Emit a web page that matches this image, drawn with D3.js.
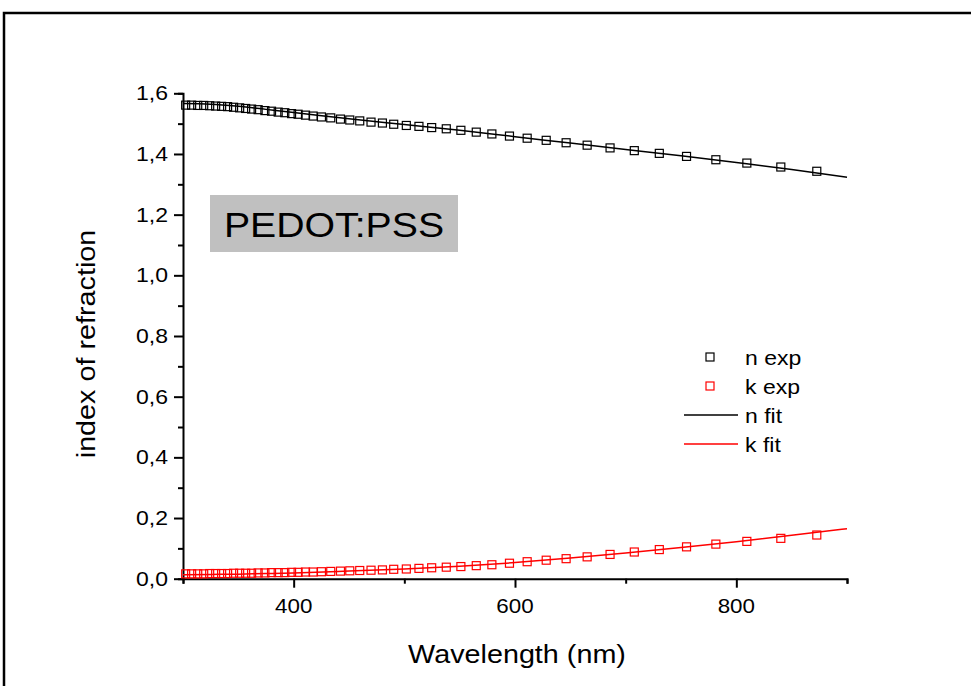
<!DOCTYPE html>
<html lang="en">
<head>
  <meta charset="UTF-8">
  <script src="https://d3js.org/d3.v7.min.js"></script>
  <title>PEDOT:PSS index of refraction</title>
  <style>
    body {
      margin: 0;
      background: #fff;
      font-family: "Liberation Sans", Arial, sans-serif;
      overflow: hidden;
    }
    text { fill: #000; }
  </style>
</head>
<body>
<script>
  // measured points (wavelength in nm)
  const wavelengthExp = [302.4, 307.8, 313.3, 318.7, 324.1, 329.5, 334.9, 340.3, 345.7, 351.2,
    356.6, 362.0, 367.9, 374.0, 380.0, 386.0, 392.0, 398.1, 404.0, 410.7,
    417.6, 425.1, 433.5, 442.3, 450.7, 459.7, 469.9, 480.2, 490.4, 501.8,
    513.2, 524.7, 537.9, 551.1, 565.0, 579.1, 595.0, 611.0, 628.2, 646.2,
    665.2, 685.9, 707.8, 730.4, 755.0, 781.5, 809.5, 840.2, 872.7];
  const nExp = [1.561, 1.561, 1.560, 1.560, 1.559, 1.558, 1.557, 1.556, 1.554, 1.552,
    1.550, 1.548, 1.546, 1.543, 1.541, 1.538, 1.536, 1.533, 1.531, 1.528,
    1.525, 1.522, 1.519, 1.515, 1.512, 1.509, 1.505, 1.502, 1.498, 1.494,
    1.491, 1.487, 1.483, 1.478, 1.472, 1.466, 1.459, 1.452, 1.445, 1.437,
    1.429, 1.420, 1.411, 1.402, 1.392, 1.381, 1.370, 1.357, 1.343];
  const kExp = [0.016, 0.016, 0.016, 0.016, 0.017, 0.017, 0.017, 0.017, 0.018, 0.018,
    0.018, 0.018, 0.019, 0.019, 0.020, 0.020, 0.020, 0.021, 0.021, 0.022,
    0.022, 0.023, 0.024, 0.025, 0.026, 0.027, 0.028, 0.029, 0.031, 0.032,
    0.034, 0.036, 0.038, 0.040, 0.043, 0.046, 0.051, 0.056, 0.061, 0.066,
    0.072, 0.080, 0.088, 0.096, 0.105, 0.114, 0.123, 0.133, 0.144];

  // fitted curves
  const wavelengthFit = [300, 325, 350, 375, 400, 450, 500, 550, 600, 650, 700, 750, 800, 850, 900];
  const nFit = [1.566, 1.564, 1.557, 1.547, 1.537, 1.516, 1.497, 1.478, 1.457, 1.436, 1.415, 1.394, 1.372, 1.349, 1.323];
  const kFit = [0.013, 0.014, 0.015, 0.017, 0.019, 0.025, 0.032, 0.041, 0.053, 0.068, 0.085, 0.103, 0.122, 0.143, 0.165];

  const xMajor = [400, 600, 800];
  const xMinor = [300, 500, 700, 900];
  const yMajor = [0, 0.2, 0.4, 0.6, 0.8, 1.0, 1.2, 1.4, 1.6];
  const yMinor = [0.1, 0.3, 0.5, 0.7, 0.9, 1.1, 1.3, 1.5];

  const legendItems = [
    { label: "n exp", color: "#000", type: "square" },
    { label: "k exp", color: "#ff0000", type: "square" },
    { label: "n fit", color: "#000", type: "line" },
    { label: "k fit", color: "#ff0000", type: "line" }
  ];

  const width = 971, height = 686;
  const svg = d3.select("body").append("svg")
    .attr("width", width)
    .attr("height", height);

  // outer frame
  svg.append("rect")
    .attr("x", 4).attr("y", 13)
    .attr("width", 1000).attr("height", 700)
    .attr("fill", "none")
    .attr("stroke", "#000")
    .attr("stroke-width", 2.5);

  const x = d3.scaleLinear().domain([300, 900]).range([183, 847]);
  const y = d3.scaleLinear().domain([0, 1.6]).range([578.7, 93.3]);

  const comma = d3.formatLocale({ decimal: ",", thousands: ".", grouping: [3], currency: ["", ""] }).format(".1f");

  // text slightly widened like the original export
  function label(g, px, py, str, size, sx, anchor, rot) {
    return g.append("text")
      .attr("transform", `translate(${px},${py})` + (rot ? ` rotate(${rot})` : "") + ` scale(${sx},1)`)
      .attr("text-anchor", anchor)
      .style("font-size", size + "px")
      .text(str);
  }

  // axes
  const axisG = svg.append("g");
  const xAxis = axisG.append("g").attr("transform", "translate(0,578.7)");
  xAxis.call(d3.axisBottom(x).tickValues(xMajor).tickSize(9).tickFormat(""));
  xAxis.append("g").call(d3.axisBottom(x).tickValues(xMinor).tickSize(5).tickFormat(""));
  const yAxis = axisG.append("g").attr("transform", "translate(183,0)");
  yAxis.call(d3.axisLeft(y).tickValues(yMajor).tickSize(9).tickFormat(""));
  yAxis.append("g").call(d3.axisLeft(y).tickValues(yMinor).tickSize(5).tickFormat(""));
  axisG.selectAll("path.domain").attr("stroke-width", 2).attr("stroke", "#000");
  axisG.selectAll(".tick line").attr("stroke-width", 2).attr("stroke", "#000");
  xAxis.select("g path.domain").remove();
  yAxis.select("g path.domain").remove();

  xMajor.forEach(v => label(svg, x(v), 613, String(v), 20, 1.12, "middle"));
  yMajor.forEach(v => label(svg, 168, y(v) + 7, comma(v), 20, 1.15, "end"));

  label(svg, 517, 663, "Wavelength (nm)", 25, 1.15, "middle");
  label(svg, 95, 344, "index of refraction", 25, 1.15, "middle", -90);

  // fit lines
  const line = vals => d3.line()
    .x((d, i) => x(wavelengthFit[i]))
    .y(d => y(d))
    .curve(d3.curveMonotoneX)(vals);

  // experimental squares
  const sq = 8;
  function squares(vals, color) {
    svg.append("g").selectAll("rect")
      .data(vals)
      .enter().append("rect")
      .attr("x", (d, i) => x(wavelengthExp[i]) - sq / 2)
      .attr("y", d => y(d) - sq / 2)
      .attr("width", sq).attr("height", sq)
      .attr("fill", "none")
      .attr("stroke", color)
      .attr("stroke-width", 1.2);
  }
  squares(nExp, "#000");
  squares(kExp, "#ff0000");

  svg.append("path").attr("d", line(nFit))
    .attr("fill", "none").attr("stroke", "#000").attr("stroke-width", 1.5);
  svg.append("path").attr("d", line(kFit))
    .attr("fill", "none").attr("stroke", "#ff0000").attr("stroke-width", 1.5);

  // sample label
  svg.append("rect")
    .attr("x", 210).attr("y", 195)
    .attr("width", 248).attr("height", 57)
    .attr("fill", "#c0c0c0");
  label(svg, 334, 237, "PEDOT:PSS", 36, 1.09, "middle");

  // legend
  const legend = svg.append("g");
  legendItems.forEach((d, i) => {
    const cy = 357 + i * 29;
    if (d.type === "square") {
      legend.append("rect")
        .attr("x", 710 - sq / 2).attr("y", cy - sq / 2)
        .attr("width", sq).attr("height", sq)
        .attr("fill", "none").attr("stroke", d.color).attr("stroke-width", 1.2);
    } else {
      legend.append("line")
        .attr("x1", 684).attr("x2", 738)
        .attr("y1", cy).attr("y2", cy)
        .attr("stroke", d.color).attr("stroke-width", 1.5);
    }
    label(legend, 745, cy + 8, d.label, 20, 1.15, "start");
  });
</script>
</body>
</html>
